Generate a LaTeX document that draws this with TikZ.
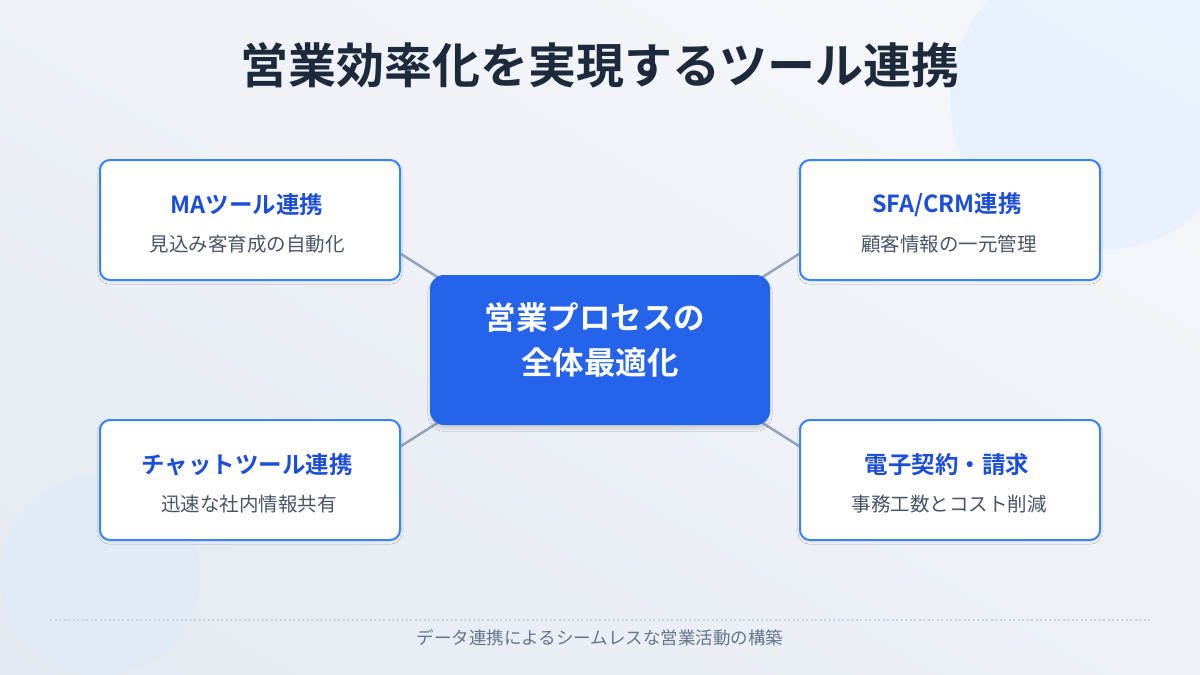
\documentclass[tikz,border=0pt]{standalone}
\usepackage{fontspec}
\setmainfont{Noto Sans CJK JP}[BoldFont={Noto Sans CJK JP Bold}]
\usetikzlibrary{shadows.blur}
\definecolor{bgA}{HTML}{F8FAFC}
\definecolor{bgB}{HTML}{E2E8F0}
\definecolor{circ}{HTML}{DBEAFE}
\definecolor{titlec}{HTML}{1E293B}
\definecolor{boxborder}{HTML}{3B82F6}
\definecolor{boxtitle}{HTML}{1D4ED8}
\definecolor{subc}{HTML}{475569}
\definecolor{centerfill}{HTML}{2563EB}
\definecolor{linkc}{HTML}{94A3B8}
\definecolor{footline}{HTML}{CBD5E1}
\definecolor{foottext}{HTML}{64748B}
\tikzset{
  toolbox/.style={draw=boxborder, line width=2pt, fill=white, rounded corners=10pt,
    minimum width=300pt, minimum height=120pt, inner sep=0pt,
    blur shadow={shadow xshift=0pt, shadow yshift=-2pt, shadow opacity=4, shadow blur steps=6}},
  boxtitletext/.style={font=\fontsize{23.5}{27}\selectfont\bfseries, text=boxtitle, inner sep=0pt},
  subtext/.style={font=\fontsize{19.5}{23}\selectfont, text=subc, inner sep=0pt},
  link/.style={draw=linkc, line width=2.5pt},
}
\begin{document}
\begin{tikzpicture}[x=1pt,y=-1pt]
\useasboundingbox (0,0) rectangle (1200,675);
% background
\shade[left color=bgA, right color=bgB, shading angle=-30] (-300,-300) rectangle (1500,975);
\begin{scope}
\clip (0,0) rectangle (1200,675);
\fill[circ, opacity=0.45] (1100,100) circle (150);
\fill[circ, opacity=0.45] (100,575) circle (100);
\end{scope}
% title
\node[font=\fontsize{48}{54}\selectfont\bfseries, text=titlec, inner sep=0pt] (title) at (600,65) {営業効率化を実現するツール連携};
% connector anchor coordinates
\coordinate (l1a) at (360,228);
\coordinate (l1b) at (480,304);
\coordinate (l2a) at (840,228);
\coordinate (l2b) at (720,304);
\coordinate (l3a) at (360,472);
\coordinate (l3b) at (480,396);
\coordinate (l4a) at (840,472);
\coordinate (l4b) at (720,396);
\draw[link] (l1a) -- (l1b);
\draw[link] (l2a) -- (l2b);
\draw[link] (l3a) -- (l3b);
\draw[link] (l4a) -- (l4b);
% boxes
\node[toolbox] (ma) at (250,220) {};
\node[toolbox] (sfa) at (950,220) {};
\node[toolbox] (chat) at (250,480) {};
\node[toolbox] (esign) at (950,480) {};
\node[boxtitletext] (maT) at (247,205) {MAツール連携};
\node[subtext] (maS) at (247,244) {見込み客育成の自動化};
\node[boxtitletext] (sfaT) at (947,205) {SFA/CRM連携};
\node[subtext] (sfaS) at (949,244) {顧客情報の一元管理};
\node[boxtitletext] (chatT) at (247,465) {チャットツール連携};
\node[subtext] (chatS) at (249,504) {迅速な社内情報共有};
\node[boxtitletext] (esignT) at (947,465) {電子契約・請求};
\node[subtext] (esignS) at (949,504) {事務工数とコスト削減};
% center
\node[fill=centerfill, rounded corners=14pt, minimum width=340pt, minimum height=150pt, inner sep=0pt,
  blur shadow={shadow xshift=0pt, shadow yshift=-4pt, shadow opacity=12, shadow blur steps=8}] (center) at (600,350) {};
\node[font=\fontsize{31.5}{36}\selectfont\bfseries, text=white, inner sep=0pt] (c1) at (595,318) {営業プロセスの};
\node[font=\fontsize{31.5}{36}\selectfont\bfseries, text=white, inner sep=0pt] (c2) at (600,362) {全体最適化};
% footer
\coordinate (fl) at (50,620);
\coordinate (fr) at (1150,620);
\draw[footline, line width=1.2pt, dash pattern=on 2pt off 2.5pt] (fl) -- (fr);
\node[font=\fontsize{17.5}{21}\selectfont, text=foottext, inner sep=0pt] (foot) at (600,638) {データ連携によるシームレスな営業活動の構築};
\end{tikzpicture}
\end{document}
